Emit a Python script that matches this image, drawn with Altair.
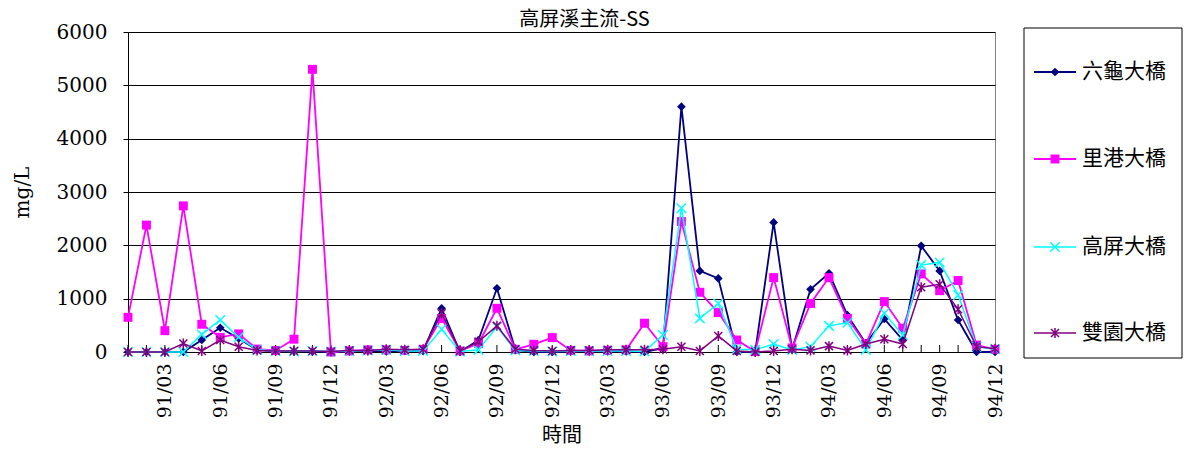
import altair as alt
import pandas as pd

# Monthly sampling periods (ROC years 91-94)
months = [f"{y}/{m:02d}" for y in (91, 92, 93, 94) for m in range(1, 13)]

# Suspended solids (mg/L) at each station
liugui = [0, 0, 0, 0, 225, 455, 255, 40, 10, 10, 10, 0,
          10, 20, 10, 20, 20, 820, 0, 225, 1195, 40, 0, 0,
          10, 10, 10, 10, 0, 75, 4600, 1520, 1380, 0, 0, 2430,
          50, 1175, 1475, 690, 160, 620, 225, 1990, 1520, 600, 0, 0]
ligang = [650, 2380, 400, 2740, 520, 275, 340, 55, 30, 240, 5300, 0,
          20, 40, 40, 30, 50, 630, 20, 160, 820, 50, 145, 270,
          30, 20, 30, 40, 540, 100, 2445, 1120, 740, 225, 10, 1395,
          75, 910, 1395, 630, 150, 945, 445, 1465, 1150, 1340, 130, 50]
gaoping = [0, 0, 0, 0, 330, 600, 275, 40, 20, 10, 20, 10,
           20, 30, 40, 20, 20, 425, 10, 40, 475, 30, 20, 10,
           20, 20, 20, 20, 10, 320, 2695, 630, 910, 50, 40, 150,
           40, 100, 490, 550, 40, 725, 320, 1630, 1680, 1070, 100, 50]
shuangyuan = [0, 0, 0, 160, 20, 225, 100, 30, 20, 20, 20, 10,
              30, 30, 50, 40, 50, 725, 20, 195, 490, 50, 30, 20,
              30, 30, 40, 40, 40, 50, 100, 20, 300, 20, 0, 20,
              50, 30, 110, 30, 150, 240, 150, 1215, 1270, 800, 100, 60]

station_names = ["六龜大橋", "里港大橋", "高屏大橋", "雙園大橋"]
station_values = [liugui, ligang, gaoping, shuangyuan]

W, H = 867, 320
SERIF = "DejaVu Serif"
CJK = "Noto Sans CJK TC"

# marker styles per station: colour, shape, filled, size, line width
styles = [
    ("#000080", "diamond", True, 75, 1.8),
    ("#FF00FF", "square", True, 80, 1.8),
    ("#00FFFF", "M-1,-1L1,1M-1,1L1,-1", False, 90, 1.5),
    ("#800080", "M-0.8,-0.8L0.8,0.8M-0.8,0.8L0.8,-0.8M0,-1L0,1", False, 100, 1.5),
]

x_axis = alt.Axis(
    title="時間", titleFont=CJK, titleFontSize=20, titleFontWeight="normal",
    titleColor="black", titlePadding=8,
    labelExpr="indexof(['03','06','09','12'], slice(datum.label, 3)) >= 0 ? datum.label : ''",
    labelAngle=270, labelFont=SERIF, labelFontSize=19, labelColor="black",
    labelPadding=11, labelOverlap=False, labelLimit=200, ticks=False,
    domainColor="black", domainWidth=1, grid=False,
)
y_axis = alt.Axis(
    title="mg/L", titleFont=SERIF, titleFontSize=20, titleFontWeight="normal",
    titleColor="black", titlePadding=24,
    values=[0, 1000, 2000, 3000, 4000, 5000, 6000], format="d",
    labelFont=SERIF, labelFontSize=20, labelColor="black", labelPadding=16,
    tickSize=5, tickColor="black", domainColor="black",
    grid=True, gridColor="black", gridWidth=1,
)
X = alt.X("月份:O", sort=months, scale=alt.Scale(type="point", padding=0), axis=x_axis)
Y = alt.Y("值:Q", scale=alt.Scale(domain=[0, 6000], nice=False, zero=True), axis=y_axis)

layers = []

# inward month ticks along the time axis
tick_df = pd.DataFrame({"月份": months})
layers.append(
    alt.Chart(tick_df).mark_rule(color="black", strokeWidth=1)
    .encode(x=X, y=alt.value(H - 7), y2=alt.value(H))
)

for name, vals, (col, shp, filled, size, lw) in zip(station_names, station_values, styles):
    df = pd.DataFrame({"月份": months, "值": vals, "站名": name})
    base = alt.Chart(df).encode(x=X, y=Y)
    layers.append(base.mark_line(color=col, strokeWidth=lw))
    layers.append(base.mark_point(color=col, shape=shp, filled=filled, size=size,
                                  strokeWidth=1.5, opacity=1))

# legend box with a line+marker sample for each station
box_df = pd.DataFrame({"k": [0]})
layers.append(
    alt.Chart(box_df).mark_rect(fill="white", stroke="black", strokeWidth=1)
    .encode(x=alt.value(896), x2=alt.value(1054), y=alt.value(-4), y2=alt.value(326))
)
legend_y = [40, 127, 215, 301]
for name, ly, (col, shp, filled, size, lw) in zip(station_names, legend_y, styles):
    ldf = pd.DataFrame({"站名": [name]})
    lb = alt.Chart(ldf)
    layers.append(lb.mark_rule(color=col, strokeWidth=lw).encode(
        x=alt.value(906), x2=alt.value(948), y=alt.value(ly)))
    layers.append(lb.mark_point(color=col, shape=shp, filled=filled, size=size,
                                strokeWidth=1.5, opacity=1).encode(
        x=alt.value(927), y=alt.value(ly)))
    layers.append(lb.mark_text(align="left", baseline="middle", font=CJK, fontSize=21,
                               color="black").encode(
        text="站名:N", x=alt.value(954), y=alt.value(ly)))

chart = (
    alt.layer(*layers)
    .properties(
        width=W, height=H,
        title=alt.TitleParams("高屏溪主流-SS", font=CJK, fontSize=20, fontWeight="normal",
                              color="black", anchor="middle", frame="group",
                              offset=-8, dx=23),
        autosize=alt.AutoSizeParams(type="none"),
        padding={"left": 128, "top": 32, "right": 189, "bottom": 98},
        background="white",
    )
    .configure_view(stroke="#808080", strokeWidth=1)
)

chart.save("out.html", embed_options={"renderer": "svg", "actions": False})
